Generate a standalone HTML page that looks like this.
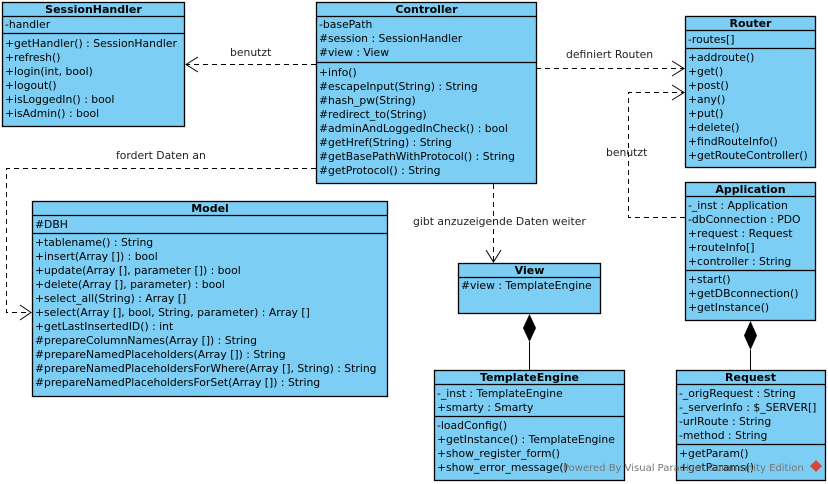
<!DOCTYPE html>
<html><head><meta charset="utf-8"><style>
html,body{margin:0;padding:0;background:#fff;}
svg{display:block;}
text{font-family:"DejaVu Sans","Liberation Sans",sans-serif;font-size:10.8px;fill:#000;}
.b{font-weight:bold;font-size:11px;}
.l{fill:#222;}
</style></head><body>
<svg width="828" height="484" viewBox="0 0 828 484" xmlns="http://www.w3.org/2000/svg">
<g fill="#7ccef4" stroke="#000" stroke-width="1.3">
<rect x="2.5" y="2.5" width="182" height="124"/>
<rect x="316.5" y="2.5" width="220" height="181"/>
<rect x="685.5" y="16.5" width="130" height="151"/>
<rect x="685.5" y="182.5" width="130" height="138"/>
<rect x="32.5" y="201.5" width="355" height="195"/>
<rect x="458.5" y="263.5" width="142" height="50"/>
<rect x="434.5" y="370.5" width="190" height="110"/>
<rect x="676.5" y="370.5" width="149" height="110"/>
</g>
<g stroke="#000" stroke-width="1.2">
<line x1="2" y1="16.5" x2="185" y2="16.5"/><line x1="2" y1="33.5" x2="185" y2="33.5"/>
<line x1="316" y1="16.5" x2="537" y2="16.5"/><line x1="316" y1="62.5" x2="537" y2="62.5"/>
<line x1="685" y1="30.5" x2="816" y2="30.5"/><line x1="685" y1="48.5" x2="816" y2="48.5"/>
<line x1="685" y1="196.5" x2="816" y2="196.5"/><line x1="685" y1="270.5" x2="816" y2="270.5"/>
<line x1="32" y1="215.5" x2="388" y2="215.5"/><line x1="32" y1="233.5" x2="388" y2="233.5"/>
<line x1="458" y1="277.5" x2="601" y2="277.5"/>
<line x1="434" y1="384.5" x2="625" y2="384.5"/><line x1="434" y1="416.5" x2="625" y2="416.5"/>
<line x1="676" y1="384.5" x2="826" y2="384.5"/><line x1="676" y1="444.5" x2="826" y2="444.5"/>
</g>
<g fill="none" stroke="#000" stroke-width="1" stroke-dasharray="5,4">
<line x1="316" y1="64.5" x2="186" y2="64.5"/>
<line x1="536" y1="68.5" x2="684" y2="68.5"/>
<polyline points="316,168.5 6.5,168.5 6.5,312.5 31,312.5"/>
<line x1="493.5" y1="184" x2="493.5" y2="262"/>
<polyline points="685,217.5 628.5,217.5 628.5,92.5 684,92.5"/>
</g>
<g fill="none" stroke="#000" stroke-width="1">
<polyline points="198,57 186,64.5 198,72"/>
<polyline points="672,61 684,68.5 672,76"/>
<polyline points="20,305 31,312.5 20,320"/>
<polyline points="486,250 493.5,262 501,250"/>
<polyline points="672,85 684,92.5 672,100"/>
<line x1="529.5" y1="342" x2="529.5" y2="370"/>
<line x1="750.5" y1="350" x2="750.5" y2="370"/>
</g>
<polygon points="529.5,314 536,328 529.5,342 523,328" fill="#000"/>
<polygon points="750.5,321 757,335.5 750.5,350 744,335.5" fill="#000"/>
<text class="l" x="230" y="56">benutzt</text>
<text class="l" x="566" y="58">definiert Routen</text>
<text class="l" x="116" y="159">fordert Daten an</text>
<text class="l" x="413" y="225">gibt anzuzeigende Daten weiter</text>
<text class="l" x="606" y="156">benutzt</text>
<text class="b" x="93.5" y="13" text-anchor="middle">SessionHandler</text>
<text x="5" y="28">-handler</text>
<text x="5" y="47">+getHandler() : SessionHandler</text>
<text x="5" y="61">+refresh()</text>
<text x="5" y="75">+login(int, bool)</text>
<text x="5" y="89">+logout()</text>
<text x="5" y="103">+isLoggedIn() : bool</text>
<text x="5" y="117">+isAdmin() : bool</text>
<text class="b" x="426.5" y="13" text-anchor="middle">Controller</text>
<text x="319" y="28">-basePath</text>
<text x="319" y="42">#session : SessionHandler</text>
<text x="319" y="56">#view : View</text>
<text x="319" y="76">+info()</text>
<text x="319" y="90">#escapeInput(String) : String</text>
<text x="319" y="104">#hash_pw(String)</text>
<text x="319" y="118">#redirect_to(String)</text>
<text x="319" y="132">#adminAndLoggedInCheck() : bool</text>
<text x="319" y="146">#getHref(String) : String</text>
<text x="319" y="160">#getBasePathWithProtocol() : String</text>
<text x="319" y="174">#getProtocol() : String</text>
<text class="b" x="750.5" y="27" text-anchor="middle">Router</text>
<text x="688" y="43">-routes[]</text>
<text x="688" y="61">+addroute()</text>
<text x="688" y="75">+get()</text>
<text x="688" y="89">+post()</text>
<text x="688" y="103">+any()</text>
<text x="688" y="117">+put()</text>
<text x="688" y="131">+delete()</text>
<text x="688" y="145">+findRouteInfo()</text>
<text x="688" y="159">+getRouteController()</text>
<text class="b" x="750.5" y="193" text-anchor="middle">Application</text>
<text x="688" y="209">-_inst : Application</text>
<text x="688" y="223">-dbConnection : PDO</text>
<text x="688" y="237">+request : Request</text>
<text x="688" y="251">+routeInfo[]</text>
<text x="688" y="265">+controller : String</text>
<text x="688" y="283">+start()</text>
<text x="688" y="297">+getDBconnection()</text>
<text x="688" y="311">+getInstance()</text>
<text class="b" x="210" y="212" text-anchor="middle">Model</text>
<text x="35" y="228">#DBH</text>
<text x="35" y="246">+tablename() : String</text>
<text x="35" y="260">+insert(Array []) : bool</text>
<text x="35" y="274">+update(Array [], parameter []) : bool</text>
<text x="35" y="288">+delete(Array [], parameter) : bool</text>
<text x="35" y="302">+select_all(String) : Array []</text>
<text x="35" y="316">+select(Array [], bool, String, parameter) : Array []</text>
<text x="35" y="330">+getLastInsertedID() : int</text>
<text x="35" y="344">#prepareColumnNames(Array []) : String</text>
<text x="35" y="358">#prepareNamedPlaceholders(Array []) : String</text>
<text x="35" y="372">#prepareNamedPlaceholdersForWhere(Array [], String) : String</text>
<text x="35" y="386">#prepareNamedPlaceholdersForSet(Array []) : String</text>
<text class="b" x="529.5" y="274" text-anchor="middle">View</text>
<text x="461" y="289">#view : TemplateEngine</text>
<text class="b" x="529.5" y="381" text-anchor="middle">TemplateEngine</text>
<text x="437" y="397">-_inst : TemplateEngine</text>
<text x="437" y="411">+smarty : Smarty</text>
<text x="437" y="429">-loadConfig()</text>
<text x="437" y="443">+getInstance() : TemplateEngine</text>
<text x="437" y="457">+show_register_form()</text>
<text x="437" y="471">+show_error_message()</text>
<text class="b" x="750.5" y="381" text-anchor="middle">Request</text>
<text x="679" y="397">-_origRequest : String</text>
<text x="679" y="411">-_serverInfo : $_SERVER[]</text>
<text x="679" y="425">-urlRoute : String</text>
<text x="679" y="439">-method : String</text>
<text x="679" y="457">+getParam()</text>
<text x="679" y="471">+getParams()</text>
<text x="563" y="471" style="fill:#777;font-size:10px">Powered By Visual Paradigm Community Edition</text>
<polygon points="816,460 822,466 816,472 810,466" fill="#d9463a"/>
</svg>
</body></html>
